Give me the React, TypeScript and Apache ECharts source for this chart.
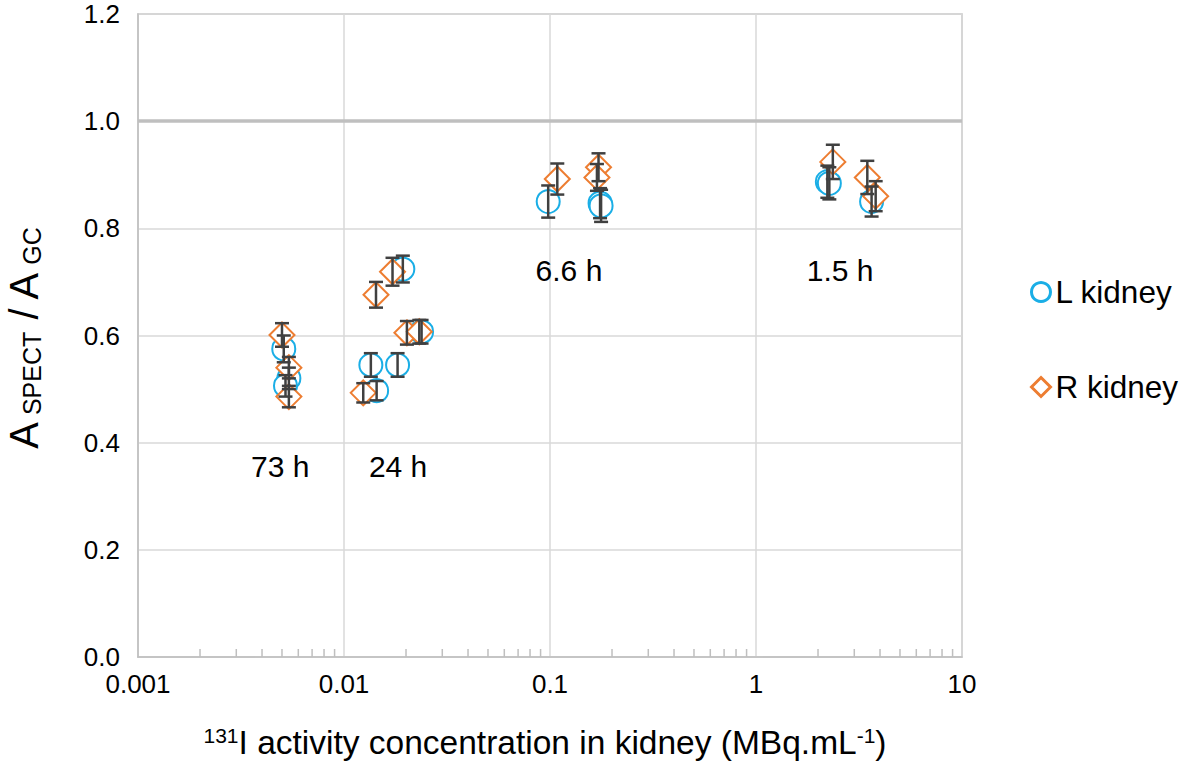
import React, { useEffect, useRef } from "react";
import * as echarts from "echarts";

// ---- Data ----
const lKidneyX = [0.0051, 0.0054, 0.0052, 0.0193, 0.0238, 0.0135, 0.0182, 0.0144, 0.098, 0.175, 0.177, 2.22, 2.27, 3.64];
const lKidneyY = [0.575, 0.52, 0.506, 0.724, 0.607, 0.545, 0.545, 0.497, 0.85, 0.847, 0.842, 0.887, 0.884, 0.85];
const lKidneyErr = [0.025, 0.02, 0.02, 0.025, 0.022, 0.022, 0.022, 0.018, 0.03, 0.028, 0.03, 0.03, 0.03, 0.028];

const rKidneyX = [0.005, 0.0054, 0.0054, 0.0172, 0.0143, 0.0202, 0.0232, 0.0124, 0.1085, 0.172, 0.169, 2.36, 3.47, 3.81];
const rKidneyY = [0.601, 0.54, 0.486, 0.719, 0.676, 0.605, 0.607, 0.493, 0.892, 0.914, 0.895, 0.924, 0.895, 0.86];
const rKidneyErr = [0.022, 0.02, 0.02, 0.026, 0.024, 0.022, 0.022, 0.018, 0.029, 0.026, 0.025, 0.032, 0.031, 0.028];

const timeLabels = ["73 h", "24 h", "6.6 h", "1.5 h"];
const timeLabelX = [0.0049, 0.0183, 0.1236, 2.56];
const timeLabelY = [0.355, 0.355, 0.722, 0.722];

const xTickLabels = ["0.001", "0.01", "0.1", "1", "10"];
const minorDecades = [0.001, 0.01, 0.1, 1];
const minorMultipliers = [2, 3, 4, 5, 6, 7, 8, 9];

const FONT = "Liberation Sans, Arial, sans-serif";
const BLUE = "#1AAEE6";
const ORANGE = "#ED7D31";

export default function App() {
  const ref = useRef<HTMLDivElement>(null);

  useEffect(() => {
    if (!ref.current) return;
    const chart = echarts.init(ref.current, undefined, { renderer: "svg" });

    const lData = lKidneyX.map((x, i) => [x, lKidneyY[i]]);
    const rData = rKidneyX.map((x, i) => [x, rKidneyY[i]]);
    const errData = [
      ...lKidneyX.map((x, i) => [x, lKidneyY[i] - lKidneyErr[i], lKidneyY[i] + lKidneyErr[i]]),
      ...rKidneyX.map((x, i) => [x, rKidneyY[i] - rKidneyErr[i], rKidneyY[i] + rKidneyErr[i]]),
    ];
    const minorTicks: number[] = [];
    minorDecades.forEach((d) => minorMultipliers.forEach((m) => minorTicks.push(d * m)));
    const labelData = timeLabels.map((t, i) => ({ name: t, value: [timeLabelX[i], timeLabelY[i]] }));

    const option: any = {
      animation: false,
      textStyle: { fontFamily: FONT },
      grid: {
        left: 138,
        top: 14,
        width: 824,
        height: 643,
        show: true,
        borderColor: "#BFBFBF",
        borderWidth: 1.5,
      },
      legend: {
        orient: "vertical",
        left: 1025,
        top: 271,
        itemGap: 63,
        itemWidth: 19,
        itemHeight: 19,
        textStyle: { fontFamily: FONT, fontSize: 31.5, color: "#000", lineHeight: 30 },
        data: [
          { name: "L kidney", icon: "circle", itemStyle: { color: "#fff", borderColor: BLUE, borderWidth: 3, opacity: 1 } },
          { name: "R kidney", icon: "diamond", itemStyle: { color: "#fff", borderColor: ORANGE, borderWidth: 3, opacity: 1 } },
        ],
      },
      xAxis: {
        type: "log",
        logBase: 10,
        min: 0.001,
        max: 10,
        axisLine: { show: true, lineStyle: { color: "#BFBFBF", width: 1.5 } },
        axisTick: { show: false },
        splitLine: { show: true, lineStyle: { color: "#D9D9D9", width: 1.5 } },
        axisLabel: {
          fontFamily: FONT,
          fontSize: 26,
          color: "#000",
          margin: 14,
          formatter: (v: number) => xTickLabels[Math.round(Math.log10(v)) + 3] ?? "",
        },
      },
      yAxis: {
        type: "value",
        min: 0,
        max: 1.2,
        interval: 0.2,
        axisLine: { show: true, lineStyle: { color: "#BFBFBF", width: 1.5 } },
        axisTick: { show: false },
        splitLine: { show: true, lineStyle: { color: "#D9D9D9", width: 1.5 } },
        axisLabel: {
          fontFamily: FONT,
          fontSize: 26,
          color: "#000",
          margin: 18,
          formatter: (v: number) => v.toFixed(1),
        },
      },
      series: [
        {
          name: "minorTicks",
          type: "custom",
          silent: true,
          data: minorTicks,
          encode: { x: 0 },
          renderItem: (params: any, api: any) => {
            const p = api.coord([api.value(0), 0]);
            return {
              type: "line",
              shape: { x1: p[0], y1: p[1], x2: p[0], y2: p[1] - 8 },
              style: { stroke: "#BFBFBF", lineWidth: 1.5 },
            };
          },
          z: 1,
        },
        {
          name: "L kidney",
          type: "scatter",
          symbol: "emptyCircle",
          symbolSize: 23,
          itemStyle: { color: BLUE, borderColor: BLUE, borderWidth: 3, opacity: 1 },
          data: lData,
          z: 3,
          markLine: {
            silent: true,
            symbol: ["none", "none"],
            label: { show: false },
            lineStyle: { color: "#BFBFBF", width: 3.5, type: "solid", opacity: 1 },
            data: [{ yAxis: 1.0 }],
            z: 1,
          },
        },
        {
          name: "R kidney",
          type: "scatter",
          symbol: "emptyDiamond",
          symbolSize: [25, 25],
          itemStyle: { color: ORANGE, borderColor: ORANGE, borderWidth: 3, opacity: 1 },
          data: rData,
          z: 4,
        },
        {
          name: "errorBars",
          type: "custom",
          silent: true,
          data: errData,
          encode: { x: 0, y: [1, 2] },
          renderItem: (params: any, api: any) => {
            const x = api.value(0);
            const p1 = api.coord([x, api.value(1)]);
            const p2 = api.coord([x, api.value(2)]);
            const w = 7;
            const style = { stroke: "#404040", lineWidth: 2.5 };
            return {
              type: "group",
              children: [
                { type: "line", shape: { x1: p1[0], y1: p1[1], x2: p2[0], y2: p2[1] }, style },
                { type: "line", shape: { x1: p1[0] - w, y1: p1[1], x2: p1[0] + w, y2: p1[1] }, style },
                { type: "line", shape: { x1: p2[0] - w, y1: p2[1], x2: p2[0] + w, y2: p2[1] }, style },
              ],
            };
          },
          z: 5,
        },
        {
          name: "timeLabels",
          type: "scatter",
          symbolSize: 0,
          silent: true,
          data: labelData,
          itemStyle: { opacity: 1 },
          label: {
            show: true,
            position: "inside",
            formatter: (p: any) => p.name,
            fontFamily: FONT,
            fontSize: 30,
            color: "#000",
            opacity: 1,
          },
          z: 6,
        },
      ],
      graphic: [
        {
          type: "text",
          x: 24,
          y: 338,
          rotation: Math.PI / 2,
          style: {
            text: "{a|A}{s| SPECT}{a| / A}{s| GC}",
            align: "center",
            verticalAlign: "middle",
            fontFamily: FONT,
            rich: {
              a: { fontFamily: FONT, fontSize: 40, lineHeight: 41, verticalAlign: "top", fill: "#000" },
              s: { fontFamily: FONT, fontSize: 25, lineHeight: 25, verticalAlign: "bottom", fill: "#000" },
            },
          },
        },
        {
          type: "text",
          x: 545,
          y: 742,
          style: {
            text: "{p|131}{t|I activity concentration in kidney (MBq.mL}{p|-1}{t|)}",
            align: "center",
            verticalAlign: "middle",
            fontFamily: FONT,
            rich: {
              t: { fontFamily: FONT, fontSize: 33.5, lineHeight: 34, verticalAlign: "bottom", fill: "#000" },
              p: { fontFamily: FONT, fontSize: 21, lineHeight: 21, verticalAlign: "top", fill: "#000" },
            },
          },
        },
      ],
    };

    chart.setOption(option);
    return () => chart.dispose();
  }, []);

  return (
    <div
      ref={ref}
      style={{ position: "fixed", left: 0, top: 0, width: 1180, height: 762, background: "#fff" }}
    />
  );
}
